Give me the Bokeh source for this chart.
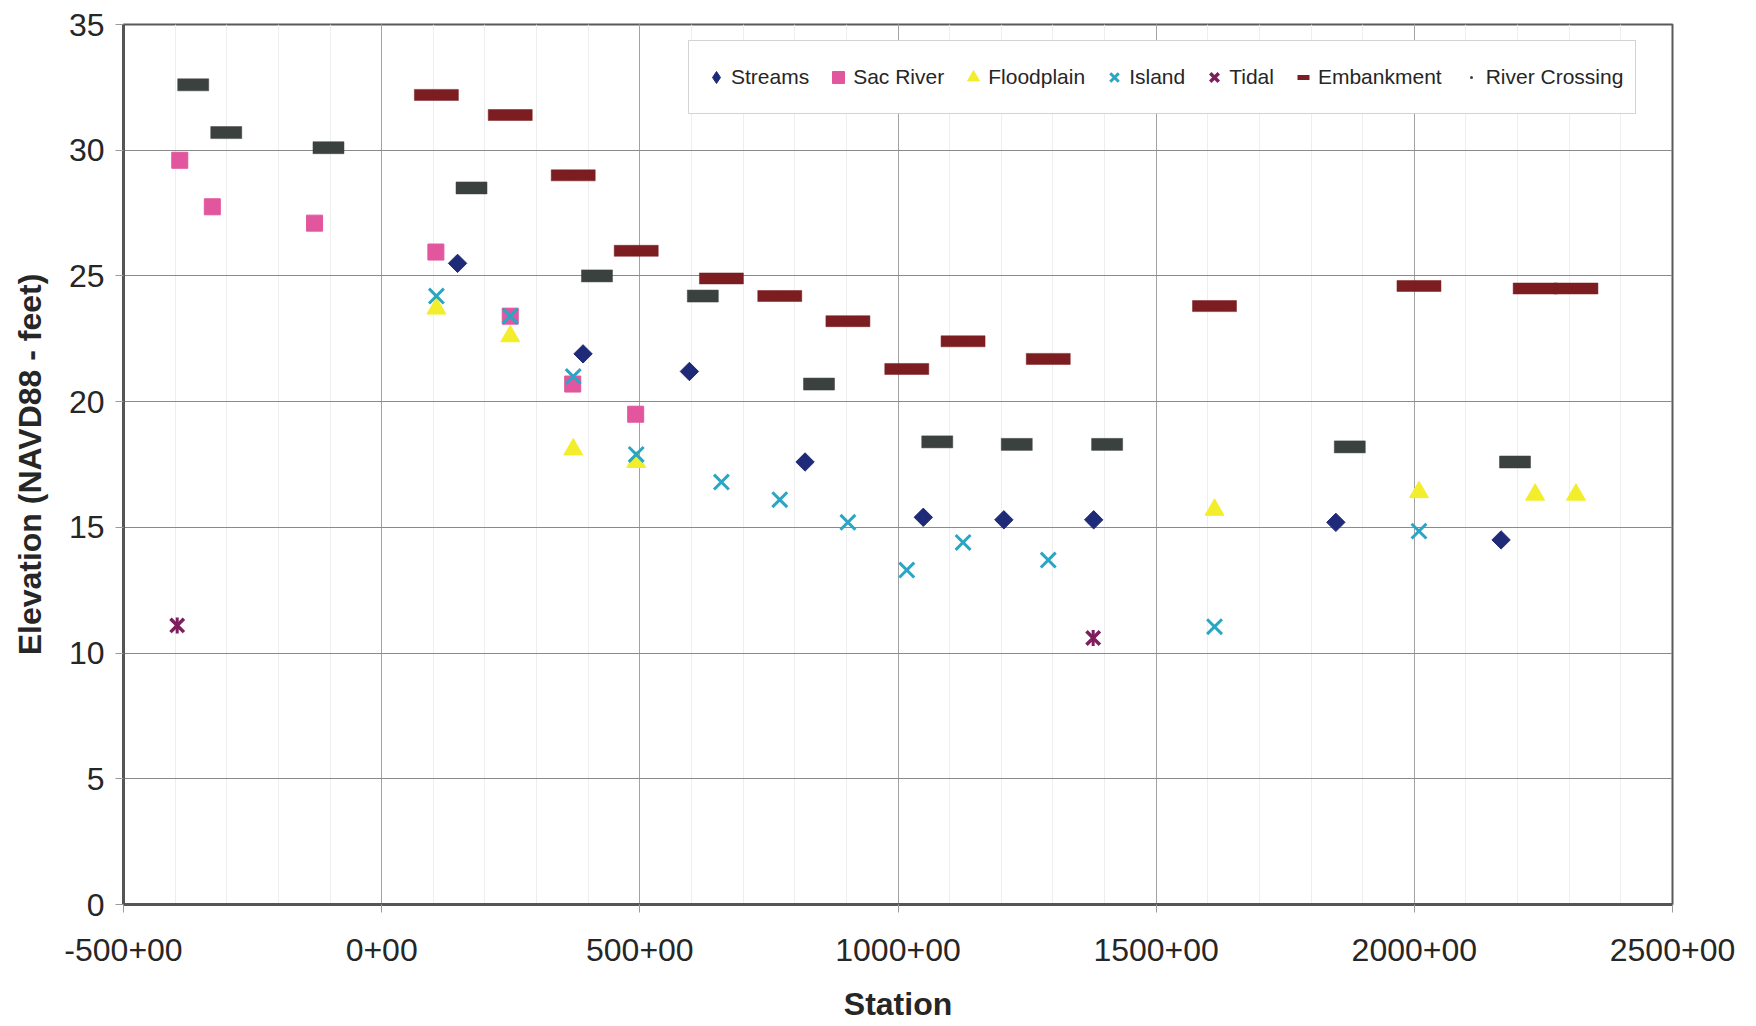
import numpy as np
from bokeh.plotting import figure
from bokeh.models import Range1d, FixedTicker, Legend, LegendItem
from bokeh.embed import file_html
from bokeh.resources import INLINE

# Elevation (ft, NAVD88) by station for each feature group
streams_sta = [147, 390, 596, 820, 1049, 1205, 1379, 1848, 2168]
streams_elev = [25.5, 21.9, 21.2, 17.6, 15.4, 15.3, 15.3, 15.2, 14.5]

sac_sta = [-391, -328, -130, 105, 249, 370, 492]
sac_elev = [29.6, 27.75, 27.1, 25.95, 23.4, 20.7, 19.5]

flood_sta = [106, 249, 371, 493, 1613, 2009, 2234, 2313]
flood_elev = [23.7, 22.6, 18.1, 17.6, 15.7, 16.4, 16.3, 16.3]

island_sta = [106, 249, 371, 493, 658, 771, 903, 1017, 1126, 1291, 1613, 2009]
island_elev = [24.2, 23.4, 21.0, 17.9, 16.8, 16.1, 15.2, 13.3, 14.4, 13.7, 11.05, 14.85]

tidal_sta = [-396, 1378]
tidal_elev = [11.1, 10.6]

emb_sta = [106, 249, 371, 493, 658, 771, 903, 1017, 1126, 1291, 1613, 2009, 2234, 2313]
emb_elev = [32.2, 31.4, 29.0, 26.0, 24.9, 24.2, 23.2, 21.3, 22.4, 21.7, 23.8, 24.6, 24.5, 24.5]

xing_sta = [-365, -301, -103, 174, 417, 622, 847, 1076, 1230, 1405, 1875, 2195]
xing_elev = [32.6, 30.7, 30.1, 28.5, 25.0, 24.2, 20.7, 18.4, 18.3, 18.3, 18.2, 17.6]

station_ticks = [-500, 0, 500, 1000, 1500, 2000, 2500]
station_labels = ["-500+00", "0+00", "500+00", "1000+00", "1500+00", "2000+00", "2500+00"]
station_minor = list(range(-500, 2501, 100))
elev_ticks = [0, 5, 10, 15, 20, 25, 30, 35]

NAVY = "#1f2b78"
PINK = "#e2569e"
YELLOW = "#f3ee2c"
CYAN = "#2aa6c4"
PLUM = "#7d1f5d"
MAROON = "#7c1d21"
SLATE = "#3a413e"
TEXT = "#262626"
FONT = "Liberation Sans"

p = figure(
    width=1756, height=1026,
    x_range=Range1d(-500, 2500), y_range=Range1d(0, 35),
    output_backend="svg", toolbar_location=None,
    min_border_left=123, min_border_right=84,
    min_border_top=24, min_border_bottom=122,
)
p.background_fill_color = "white"
p.border_fill_color = "white"
p.outline_line_color = "#5a5a5a"
p.outline_line_width = 2

# grid
p.xgrid.ticker = FixedTicker(ticks=station_ticks, minor_ticks=station_minor)
p.xgrid.grid_line_color = "#a2a2a2"
p.xgrid.grid_line_width = 1
p.xgrid.minor_grid_line_color = "#eeeeee"
p.xgrid.minor_grid_line_width = 1
p.ygrid.ticker = FixedTicker(ticks=elev_ticks)
p.ygrid.grid_line_color = "#8a8a8a"
p.ygrid.grid_line_width = 1.2

# axes
p.xaxis.ticker = FixedTicker(ticks=station_ticks)
p.xaxis.major_label_overrides = dict(zip(station_ticks, station_labels))
p.yaxis.ticker = FixedTicker(ticks=elev_ticks)
p.xaxis.axis_label = "Station"
p.yaxis.axis_label = "Elevation (NAVD88 - feet)"
for ax in (p.xaxis, p.yaxis):
    ax.axis_line_color = "#555555"
    ax.axis_line_width = 3
    ax.major_tick_line_color = "#9a9a9a"
    ax.major_tick_in = 0
    ax.major_tick_out = 8
    ax.minor_tick_line_color = None
    ax.major_label_text_font = FONT
    ax.major_label_text_font_size = "32px"
    ax.major_label_text_color = TEXT
    ax.axis_label_text_font = FONT
    ax.axis_label_text_font_size = "32px"
    ax.axis_label_text_font_style = "bold"
    ax.axis_label_text_color = TEXT
p.xaxis.major_label_standoff = 26
p.xaxis.axis_label_standoff = 22
p.yaxis.major_label_standoff = 11
p.yaxis.axis_label_standoff = 18

# data marks
r_streams = p.scatter(streams_sta, streams_elev, marker="square", angle=np.pi / 4, size=13,
                      fill_color=NAVY, line_color=NAVY)
r_sac = p.scatter(sac_sta, sac_elev, marker="square", size=16,
                  fill_color=PINK, line_color=PINK)
r_flood = p.scatter(flood_sta, flood_elev, marker="triangle", size=19,
                    fill_color=YELLOW, line_color=YELLOW)
r_island = p.scatter(island_sta, island_elev, marker="x", size=21,
                     line_color=CYAN, line_width=3)
r_tidal = p.scatter(tidal_sta, tidal_elev, marker="x", size=19,
                    line_color=PLUM, line_width=3.5)
p.scatter(tidal_sta, tidal_elev, marker="dash", angle=np.pi / 2, size=16,
          line_color=PLUM, line_width=3)
p.rect(emb_sta, emb_elev, width=44, height=11,
       width_units="screen", height_units="screen",
       fill_color=MAROON, line_color=MAROON, line_width=0.5)
p.rect(xing_sta, xing_elev, width=31, height=12,
       width_units="screen", height_units="screen",
       fill_color=SLATE, line_color=SLATE, line_width=0.5)

# small key glyphs, drawn inside the larger marks so only the legend shows them
k_streams = p.scatter(streams_sta, streams_elev, marker="diamond", size=12,
                      fill_color=NAVY, line_color=NAVY)
k_emb = p.scatter(emb_sta, emb_elev, marker="dash", size=8,
                  line_color=MAROON, line_width=5)
k_xing = p.scatter(xing_sta, xing_elev, marker="dot", size=8,
                   fill_color=SLATE, line_color=SLATE, line_width=4)

legend = Legend(
    items=[
        LegendItem(label="Streams", renderers=[k_streams]),
        LegendItem(label="Sac River", renderers=[r_sac]),
        LegendItem(label="Floodplain", renderers=[r_flood]),
        LegendItem(label="Island", renderers=[r_island]),
        LegendItem(label="Tidal", renderers=[r_tidal]),
        LegendItem(label="Embankment", renderers=[k_emb]),
        LegendItem(label="River Crossing", renderers=[k_xing]),
    ],
    orientation="horizontal",
    location=(565, 790),
    glyph_width=30, glyph_height=48,
    label_standoff=0, spacing=14, padding=12, margin=0,
    label_text_font=FONT, label_text_font_size="21px", label_text_color=TEXT,
    border_line_color="#a8a8a8", border_line_width=1,
    background_fill_color="white", background_fill_alpha=1,
)
p.add_layout(legend)

open("out.html", "w").write(file_html(p, INLINE))
